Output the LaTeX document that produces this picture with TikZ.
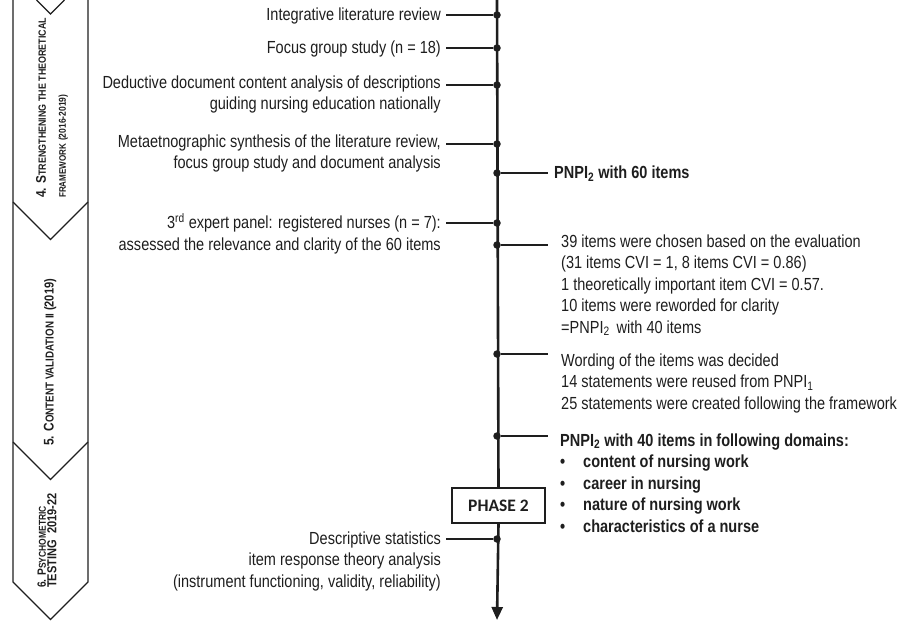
\documentclass[tikz,border=0pt]{standalone}
\usepackage{fontspec}
\setmainfont{Liberation Sans}[FakeStretch=0.83]
\newfontfamily\stripfont{Liberation Sans}[FakeStretch=0.85]
\newfontfamily\phasefont{Carlito}
\usetikzlibrary{arrows.meta}
\definecolor{ink}{HTML}{1E1E1E}
\newcommand{\fs}[2]{{\fontsize{#1}{#1}\selectfont #2}}
\newcommand{\bul}{\makebox[23pt][l]{\textbullet}}
\tikzset{
  tl/.style={line width=2.6pt, draw=ink},
  br/.style={line width=2.6pt, draw=ink},
  dotc/.style={circle, fill=ink, inner sep=0pt, minimum size=7.5pt},
  ltxt/.style={anchor=north east, align=right, inner sep=0pt, text=ink,
    font=\fontsize{17.5}{21.5}\selectfont, execute at begin node=\strut},
  rtxt/.style={anchor=north west, align=left, inner sep=0pt, text=ink,
    font=\fontsize{17.5}{21.5}\selectfont, execute at begin node=\strut},
  rbold/.style={rtxt, font=\fontsize{17.5}{21.5}\selectfont\bfseries},
  strip/.style={line width=1.3pt, draw=ink, line join=miter},
  striptxt/.style={rotate=90, anchor=west, align=left, inner sep=0pt, text=ink,
    font=\stripfont\bfseries\fontsize{11}{20}\selectfont},
  phasebox/.style={draw=ink, line width=2pt, fill=white, minimum width=93pt,
    minimum height=35pt, inner sep=0pt, text=ink,
    font=\phasefont\bfseries\fontsize{17.5}{20}\selectfont},
}
\begin{document}
\begin{tikzpicture}[x=1pt,y=-1pt]
\useasboundingbox (0,0) rectangle (918,632);
% ---- left chevron strip ----
\draw[strip] (13,0) -- (13,582) -- (50.5,619.5) -- (88,582) -- (88,0);
\draw[strip] (36.5,0) -- (50.5,14) -- (64.5,0);
\draw[strip] (13,202) -- (50.5,239.5) -- (88,202);
\draw[strip] (13,442) -- (50.5,479.5) -- (88,442);
\node[striptxt] (s4) at (52,198) {\fs{14}{4. S}\fs{10.5}{TRENGTHENING THE THEORETICAL}\\\fs{9.5}{FRAMEWORK} \fs{10}{(2016-2019)}};
\node[striptxt] (s5) at (50,446) {\fs{14}{5. C}\fs{11.5}{ONTENT VALIDATION II} \fs{13}{(2019)}};
\node[striptxt, font=\stripfont\bfseries\fontsize{11}{10.5}\selectfont] (s6) at (47,588) {\fs{12}{6. P}\fs{10}{SYCHOMETRIC}\\\fs{13}{TESTING\ \ 2019-22}};
% ---- timeline ----
\coordinate (tltop) at (497,0);
\coordinate (tlend) at (497,620);
\node[phasebox] (phase) at (498.5,505.5) {PHASE 2};
\draw[tl] (tltop) -- (phase.north);
\draw[tl, -{Triangle[length=13pt,width=11pt]}] (phase.south) -- (tlend);
% ---- left branches ----
\foreach \n/\y in {a/15, b/48, c/85, d/144, e/223, f/539}{
  \node[dotc] (d\n) at (497,\y) {};
  \coordinate (e\n) at (446,\y);
  \draw[br] (d\n) -- (e\n);
}
\node[ltxt] (ta) at (441,15-9.5) {Integrative literature review};
\node[ltxt] (tb) at (441,48-9.5) {Focus group study (n = 18)};
\node[ltxt] (tc) at (441,85-9.5) {Deductive document content analysis of descriptions\\guiding nursing education nationally};
\node[ltxt] (td) at (441,144-9.5) {Metaetnographic synthesis of the literature review,\\focus group study and document analysis};
\node[ltxt] (te) at (441,223-9.5) {3\textsuperscript{rd} expert panel: registered nurses (n = 7):\\assessed the relevance and clarity of the 60 items};
\node[ltxt] (tf) at (441,541-9.5) {Descriptive statistics\\item response theory analysis\\(instrument functioning, validity, reliability)};
% ---- right branches ----
\foreach \n/\y in {g/173, h/245, i/354, j/436}{
  \node[dotc] (d\n) at (497,\y) {};
  \coordinate (e\n) at (548,\y);
  \draw[br] (d\n) -- (e\n);
}
\node[rbold] (tg) at (554,173-9.5) {PNPI\textsubscript{2} with 60 items};
\node[rtxt] (th) at (561,244-9.5) {39 items were chosen based on the evaluation\\(31 items CVI = 1, 8 items CVI = 0.86)\\1 theoretically important item CVI = 0.57.\\10 items were reworded for clarity\\=PNPI\textsubscript{2}\, with 40 items};
\node[rtxt] (ti) at (561,363-9.5) {Wording of the items was decided\\14 statements were reused from PNPI\textsubscript{1}\\25 statements were created following the framework};
\node[rbold] (tj) at (560,443-9.5) {PNPI\textsubscript{2} with 40 items in following domains:\\\bul content of nursing work\\\bul career in nursing\\\bul nature of nursing work\\\bul characteristics of a nurse};
\end{tikzpicture}
\end{document}
